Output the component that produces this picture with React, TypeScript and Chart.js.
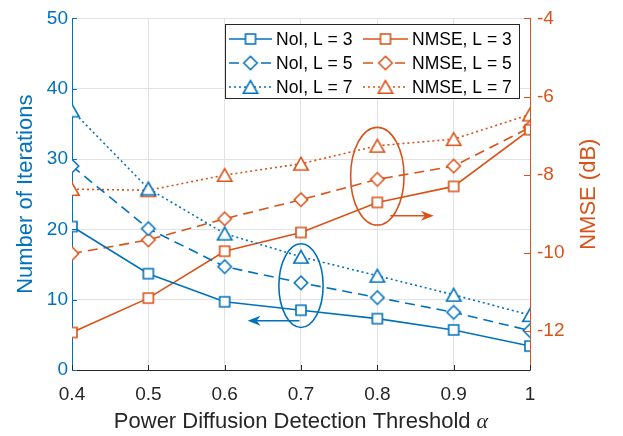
import React, { useEffect, useRef } from 'react';
import { Chart, registerables } from 'chart.js';

Chart.register(...registerables);

// ---------- data ----------
const alphas = [0.4, 0.5, 0.6, 0.7, 0.8, 0.9, 1.0];
const noiL3 = [20.4, 13.7, 9.7, 8.5, 7.3, 5.7, 3.4];
const noiL5 = [29.0, 20.1, 14.7, 12.4, 10.3, 8.2, 5.6];
const noiL7 = [36.9, 25.8, 19.4, 16.1, 13.4, 10.7, 7.8];
const nmseL3 = [-12.04, -11.16, -9.96, -9.48, -8.71, -8.3, -6.85];
const nmseL5 = [-10.02, -9.67, -9.13, -8.64, -8.12, -7.78, -6.79];
const nmseL7 = [-8.37, -8.4, -8.01, -7.72, -7.26, -7.09, -6.46];

const xTicks = [0.4, 0.5, 0.6, 0.7, 0.8, 0.9, 1];
const leftTicks = [0, 10, 20, 30, 40, 50];
const rightTicks = [-12, -10, -8, -6, -4];

const legendLabels = ['NoI, L = 3', 'NoI, L = 5', 'NoI, L = 7', 'NMSE, L = 3', 'NMSE, L = 5', 'NMSE, L = 7'];
const rightTitle = 'NMSE (dB)';
const xTitle = 'Power Diffusion Detection Threshold ';
const xTitleSymbol = 'α';

// annotations (data units)
const blueEllipse = { x: 0.7, y: 12.0, rx: 0.029, ry: 5.95 };
const orangeEllipse = { x: 0.8, y: -8.04, rx: 0.035, ry: 1.25 };
const blueArrow = { x1: 0.698, x2: 0.63, y: 7.0 };
const orangeArrow = { x1: 0.817, x2: 0.874, y: -9.05 };

const BLUE = '#0072BD';
const ORANGE = '#D95319';
const DARK = '#262626';
const GRID = '#e2e2e2';
const FONT = "'Liberation Sans', Arial, Helvetica, sans-serif";
const LW = 1.6;
const DASH = [10, 6];
const DOT = [2, 3];

type Shape = 'square' | 'diamond' | 'triangle';

function makeMarker(shape: Shape, color: string): HTMLCanvasElement {
  const c = document.createElement('canvas');
  c.width = 18;
  c.height = 18;
  const g = c.getContext('2d')!;
  g.lineWidth = LW;
  g.strokeStyle = color;
  g.fillStyle = '#ffffff';
  g.beginPath();
  if (shape === 'square') {
    g.rect(4, 4, 10, 10);
  } else if (shape === 'diamond') {
    g.moveTo(9, 2.3);
    g.lineTo(15.7, 9);
    g.lineTo(9, 15.7);
    g.lineTo(2.3, 9);
    g.closePath();
  } else {
    g.moveTo(9, 2.6);
    g.lineTo(16.2, 15.3);
    g.lineTo(1.8, 15.3);
    g.closePath();
  }
  g.fill();
  g.stroke();
  return c;
}

function drawArrow(ctx: CanvasRenderingContext2D, x1: number, y1: number, x2: number, y2: number, color: string) {
  const ang = Math.atan2(y2 - y1, x2 - x1);
  const len = 13;
  const half = 5;
  const indent = 4;
  ctx.save();
  ctx.strokeStyle = color;
  ctx.fillStyle = color;
  ctx.lineWidth = LW;
  ctx.beginPath();
  ctx.moveTo(x1, y1);
  ctx.lineTo(x2 - Math.cos(ang) * indent, y2 - Math.sin(ang) * indent);
  ctx.stroke();
  ctx.translate(x2, y2);
  ctx.rotate(ang);
  ctx.beginPath();
  ctx.moveTo(0, 0);
  ctx.lineTo(-len, -half);
  ctx.lineTo(-len + indent, 0);
  ctx.lineTo(-len, half);
  ctx.closePath();
  ctx.fill();
  ctx.restore();
}

export default function App() {
  const ref = useRef<HTMLCanvasElement | null>(null);

  useEffect(() => {
    if (!ref.current) return;
    const mk = {
      bs: makeMarker('square', BLUE),
      bd: makeMarker('diamond', BLUE),
      bt: makeMarker('triangle', BLUE),
      os: makeMarker('square', ORANGE),
      od: makeMarker('diamond', ORANGE),
      ot: makeMarker('triangle', ORANGE),
    };
    const toXY = (ys: number[]) => ys.map((y, i) => ({ x: alphas[i], y }));
    const series = [
      { label: legendLabels[0], data: noiL3, color: BLUE, dash: [] as number[], marker: mk.bs, axis: 'y' },
      { label: legendLabels[1], data: noiL5, color: BLUE, dash: DASH, marker: mk.bd, axis: 'y' },
      { label: legendLabels[2], data: noiL7, color: BLUE, dash: DOT, marker: mk.bt, axis: 'y' },
      { label: legendLabels[3], data: nmseL3, color: ORANGE, dash: [] as number[], marker: mk.os, axis: 'y1' },
      { label: legendLabels[4], data: nmseL5, color: ORANGE, dash: DASH, marker: mk.od, axis: 'y1' },
      { label: legendLabels[5], data: nmseL7, color: ORANGE, dash: DOT, marker: mk.ot, axis: 'y1' },
    ];

    const overlay = {
      id: 'overlay',
      afterDatasetsDraw(chart: any) {
        const ctx: CanvasRenderingContext2D = chart.ctx;
        const xs = chart.scales.x;
        const yl = chart.scales.y;
        const yr = chart.scales.y1;
        const ca = chart.chartArea;
        ctx.save();
        // inward ticks
        ctx.lineWidth = 1;
        ctx.strokeStyle = DARK;
        ctx.beginPath();
        xTicks.forEach((v) => {
          const px = Math.round(xs.getPixelForValue(v)) + 0.5;
          ctx.moveTo(px, ca.bottom);
          ctx.lineTo(px, ca.bottom - 5);
        });
        ctx.stroke();
        ctx.strokeStyle = BLUE;
        ctx.beginPath();
        leftTicks.forEach((v) => {
          const py = Math.round(yl.getPixelForValue(v)) + 0.5;
          ctx.moveTo(ca.left, py);
          ctx.lineTo(ca.left + 5, py);
        });
        ctx.stroke();
        ctx.strokeStyle = ORANGE;
        ctx.beginPath();
        rightTicks.forEach((v) => {
          const py = Math.round(yr.getPixelForValue(v)) + 0.5;
          ctx.moveTo(ca.right, py);
          ctx.lineTo(ca.right - 6, py);
        });
        ctx.stroke();

        // ellipses
        const ell = (e: any, ys: any, color: string) => {
          const cx = xs.getPixelForValue(e.x);
          const cy = ys.getPixelForValue(e.y);
          const rx = Math.abs(xs.getPixelForValue(e.x + e.rx) - cx);
          const ry = Math.abs(ys.getPixelForValue(e.y + e.ry) - cy);
          ctx.strokeStyle = color;
          ctx.lineWidth = LW;
          ctx.beginPath();
          ctx.ellipse(cx, cy, rx, ry, 0, 0, Math.PI * 2);
          ctx.stroke();
        };
        ell(blueEllipse, yl, BLUE);
        ell(orangeEllipse, yr, ORANGE);
        drawArrow(ctx, xs.getPixelForValue(blueArrow.x1), yl.getPixelForValue(blueArrow.y), xs.getPixelForValue(blueArrow.x2), yl.getPixelForValue(blueArrow.y), BLUE);
        drawArrow(ctx, xs.getPixelForValue(orangeArrow.x1), yr.getPixelForValue(orangeArrow.y), xs.getPixelForValue(orangeArrow.x2), yr.getPixelForValue(orangeArrow.y), ORANGE);

        // legend
        ctx.fillStyle = '#ffffff';
        ctx.fillRect(225, 24, 294, 74);
        ctx.strokeStyle = DARK;
        ctx.lineWidth = 1;
        ctx.strokeRect(225.5, 24.5, 294, 74);
        const rows = [39, 63, 87];
        const cols = [
          { l: 229, r: 272, t: 276 },
          { l: 363, r: 408, t: 412 },
        ];
        ctx.font = `17.5px ${FONT}`;
        ctx.textBaseline = 'middle';
        ctx.textAlign = 'left';
        series.forEach((s, i) => {
          const col = cols[Math.floor(i / 3)];
          const y = rows[i % 3];
          ctx.strokeStyle = s.color;
          ctx.lineWidth = LW;
          ctx.setLineDash(s.dash);
          ctx.beginPath();
          ctx.moveTo(col.l, y);
          ctx.lineTo(col.r, y);
          ctx.stroke();
          ctx.setLineDash([]);
          const mx = (col.l + col.r) / 2;
          ctx.drawImage(s.marker, mx - 9, y - 9);
          ctx.fillStyle = '#000000';
          ctx.fillText(s.label, col.t, y + 1);
        });

        // x title with italic alpha
        ctx.font = `22px ${FONT}`;
        const w1 = ctx.measureText(xTitle).width;
        ctx.font = `italic 22px 'Liberation Serif', 'DejaVu Serif', serif`;
        const w2 = ctx.measureText(xTitleSymbol).width;
        const cxm = (ca.left + ca.right) / 2;
        const x0 = cxm - (w1 + w2) / 2;
        ctx.fillStyle = DARK;
        ctx.font = `22px ${FONT}`;
        ctx.fillText(xTitle, x0, 422);
        ctx.font = `italic 22px 'Liberation Serif', 'DejaVu Serif', serif`;
        ctx.fillText(xTitleSymbol, x0 + w1, 422);

        // right title, reading bottom-to-top
        ctx.save();
        ctx.translate(589, (ca.top + ca.bottom) / 2);
        ctx.rotate(-Math.PI / 2);
        ctx.font = `22px ${FONT}`;
        ctx.fillStyle = ORANGE;
        ctx.textAlign = 'center';
        ctx.textBaseline = 'middle';
        ctx.fillText(rightTitle, 0, 0);
        ctx.restore();
        ctx.restore();
      },
    };

    const chart = new Chart(ref.current, {
      type: 'line',
      data: {
        datasets: series.map((s) => ({
          label: s.label,
          data: toXY(s.data),
          yAxisID: s.axis,
          borderColor: s.color,
          backgroundColor: '#ffffff',
          borderWidth: LW,
          borderDash: s.dash,
          pointStyle: s.marker as any,
          pointRadius: 7,
          pointHoverRadius: 7,
          tension: 0,
          fill: false,
        })),
      },
      options: {
        animation: false,
        responsive: false,
        devicePixelRatio: 1,
        events: [],
        layout: { padding: { top: 13, left: 0, right: 0, bottom: 0 } },
        plugins: { legend: { display: false }, tooltip: { enabled: false } },
        scales: {
          x: {
            type: 'linear',
            min: 0.4,
            max: 1,
            afterBuildTicks: (s: any) => {
              s.ticks = xTicks.map((v) => ({ value: v }));
            },
            afterFit: (s: any) => {
              s.height = 66;
            },
            ticks: {
              color: DARK,
              font: { family: FONT, size: 19 },
              padding: 13,
              maxRotation: 0,
              autoSkip: false,
              callback: (v: any) => (v === 1 ? '1' : Number(v).toFixed(1)),
            },
            grid: { color: GRID, lineWidth: 1, drawTicks: false },
            border: { color: DARK, width: 1 },
          },
          y: {
            type: 'linear',
            position: 'left',
            min: 0,
            max: 50,
            afterBuildTicks: (s: any) => {
              s.ticks = leftTicks.map((v) => ({ value: v }));
            },
            afterFit: (s: any) => {
              s.width = 72;
            },
            ticks: { color: BLUE, font: { family: FONT, size: 19 }, padding: 4 },
            grid: { color: GRID, lineWidth: 1, drawTicks: false },
            border: { color: BLUE, width: 1 },
            title: {
              display: true,
              text: 'Number of Iterations',
              color: BLUE,
              font: { family: FONT, size: 22 },
              padding: { top: 13, bottom: 0 },
            },
          },
          y1: {
            type: 'linear',
            position: 'right',
            min: -13,
            max: -4,
            afterBuildTicks: (s: any) => {
              s.ticks = rightTicks.map((v) => ({ value: v }));
            },
            afterFit: (s: any) => {
              s.width = 93;
            },
            ticks: { color: ORANGE, font: { family: FONT, size: 19 }, padding: 7 },
            grid: { display: false, drawTicks: false },
            border: { color: ORANGE, width: 1 },
          },
        },
      },
      plugins: [overlay],
    });
    return () => chart.destroy();
  }, []);

  return (
    <div style={{ position: 'absolute', left: 0, top: 0, width: 623, height: 436, background: '#fff' }}>
      <canvas ref={ref} width={623} height={436} />
    </div>
  );
}
